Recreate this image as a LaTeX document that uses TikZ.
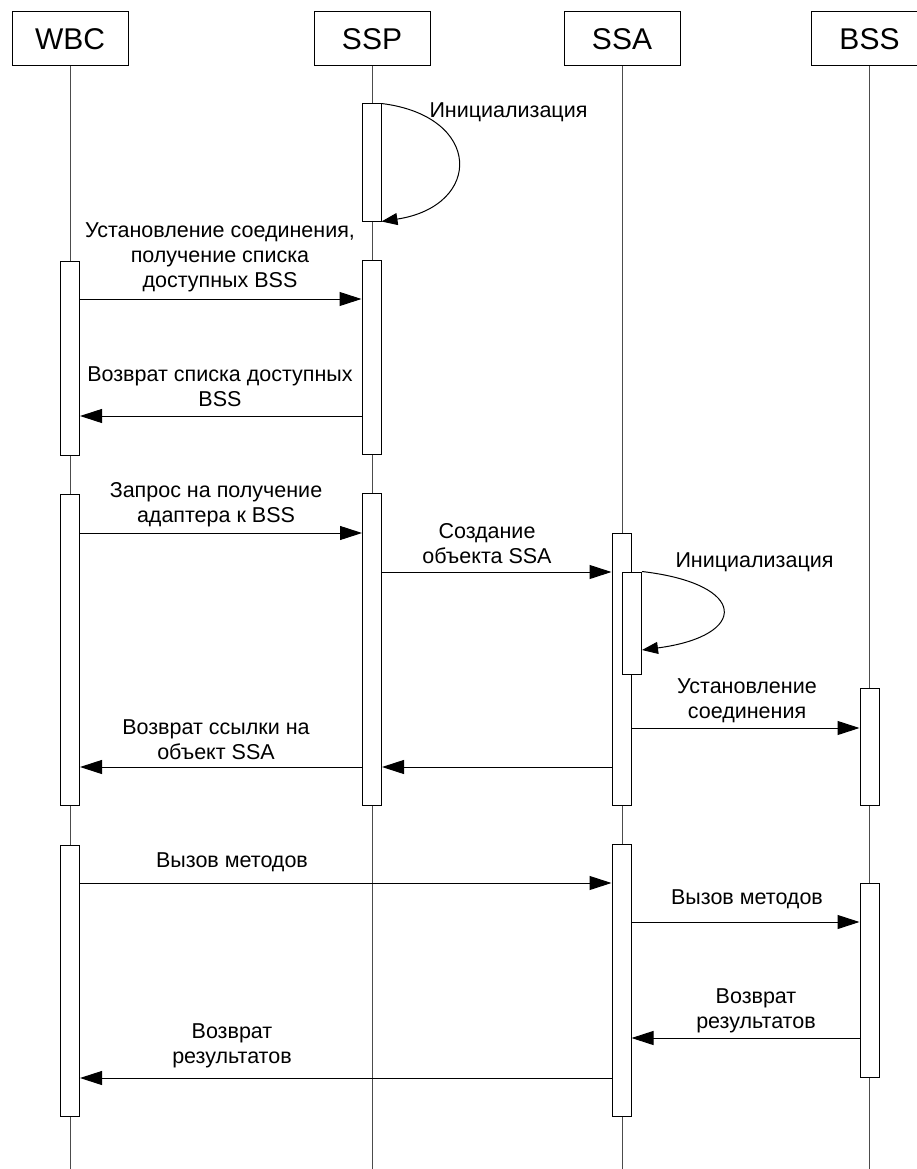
\documentclass[tikz,border=0pt]{standalone}
\usepackage{fontspec}
\setmainfont{Liberation Sans}
\usetikzlibrary{arrows.meta}

\begin{document}
\begin{tikzpicture}[
    x=1pt, y=-1pt,
    line width=1pt,
    actor/.style={rectangle, draw, minimum width=116pt, minimum height=54pt, font=\fontsize{30}{34}\selectfont},
    life/.style={draw=black!70},
    bar/.style={rectangle, draw, fill=white, minimum width=19pt, inner sep=0pt},
    msg/.style={-{Triangle[length=22pt,width=14pt]}},
    selfmsg/.style={-{Triangle[length=16pt,width=12pt]}},
    lbl/.style={align=center, font=\fontsize{21.5}{25}\selectfont, inner sep=0pt}
]
\useasboundingbox (0,0) rectangle (917,1169);

% Objects
\node[actor] (wbc) at (70,39) {WBC};
\node[actor] (ssp) at (372,39) {SSP};
\node[actor] (ssa) at (622,39) {SSA};
\node[actor] (bss) at (869.5,39) {BSS};

% Lifelines
\coordinate (wbcEnd) at (70,1169);
\coordinate (sspEnd) at (372,1169);
\coordinate (ssaEnd) at (622,1169);
\coordinate (bssEnd) at (869.5,1169);
\draw[life] (wbc) -- (wbcEnd);
\draw[life] (ssp) -- (sspEnd);
\draw[life] (ssa) -- (ssaEnd);
\draw[life] (bss) -- (bssEnd);

% Activations
\node[bar, minimum height=117pt] (sspInit) at (371.5,162.5) {};
\node[bar, minimum height=194pt] (wbcA) at (70,358) {};
\node[bar, minimum height=194pt] (sspA) at (371.5,357) {};
\node[bar, minimum height=311pt] (wbcB) at (70,649.5) {};
\node[bar, minimum height=312pt] (sspB) at (372,649) {};
\node[bar, minimum height=272pt] (ssaA) at (621.5,669) {};
\node[bar, minimum height=102pt] (ssaInit) at (632,623) {};
\node[bar, minimum height=117pt] (bssA) at (869.5,746.5) {};
\node[bar, minimum height=271pt] (wbcC) at (70,980.5) {};
\node[bar, minimum height=272pt] (ssaB) at (621.5,980) {};
\node[bar, minimum height=194pt] (bssB) at (869.5,980) {};

% Message levels
\coordinate (m1) at (0,299);
\coordinate (m2) at (0,416);
\coordinate (m3) at (0,533);
\coordinate (m4) at (0,572);
\coordinate (r4) at (0,650);
\coordinate (m5) at (0,728);
\coordinate (m6) at (0,767);
\coordinate (m8) at (0,883);
\coordinate (m9) at (0,922);
\coordinate (m10) at (0,1038);
\coordinate (m11) at (0,1078);

% Initialisation of SSP
\draw[selfmsg] (sspInit.north east) .. controls (483,116) and (483,206) .. (sspInit.south east);
\node[lbl, anchor=west] (initSsp) at (429,112) {Инициализация};

% Connection
\draw[msg] (wbcA.east |- m1) -- (sspA.west |- m1);
\node[lbl] (connect) at (220,257) {Установление соединения,\\получение списка\\доступных BSS};
\draw[msg] (sspA.west |- m2) -- (wbcA.east |- m2);
\node[lbl] (list) at (220,386.5) {Возврат списка доступных\\BSS};

% Adapter request
\draw[msg] (wbcB.east |- m3) -- (sspB.west |- m3);
\node[lbl] (request) at (216,504.5) {Запрос на получение\\адаптера к BSS};
\draw[msg] (sspB.east |- m4) -- (ssaA.west |- m4);
\node[lbl] (create) at (487,544) {Создание\\объекта SSA};
\draw[selfmsg] (ssaInit.north east) .. controls (749,584) and (749,636) .. (ssaInit.east |- r4);
\node[lbl, anchor=west] (initSsa) at (675,562) {Инициализация};
\draw[msg] (ssaA.east |- m5) -- (bssA.west |- m5);
\node[lbl] (session) at (747,700.5) {Установление\\соединения};
\draw[msg] (ssaA.west |- m6) -- (sspB.east |- m6);
\draw[msg] (sspB.west |- m6) -- (wbcB.east |- m6);
\node[lbl] (ref) at (216,740) {Возврат ссылки на\\объект SSA};

% Method calls
\draw[msg] (wbcC.east |- m8) -- (ssaB.west |- m8);
\node[lbl] (call1) at (232,862) {Вызов методов};
\draw[msg] (ssaB.east |- m9) -- (bssB.west |- m9);
\node[lbl] (call2) at (747,899) {Вызов методов};
\draw[msg] (bssB.west |- m10) -- (ssaB.east |- m10);
\node[lbl] (result2) at (756,1011) {Возврат\\результатов};
\draw[msg] (ssaB.west |- m11) -- (wbcC.east |- m11);
\node[lbl] (result1) at (232,1046) {Возврат\\результатов};

\end{tikzpicture}
\end{document}
